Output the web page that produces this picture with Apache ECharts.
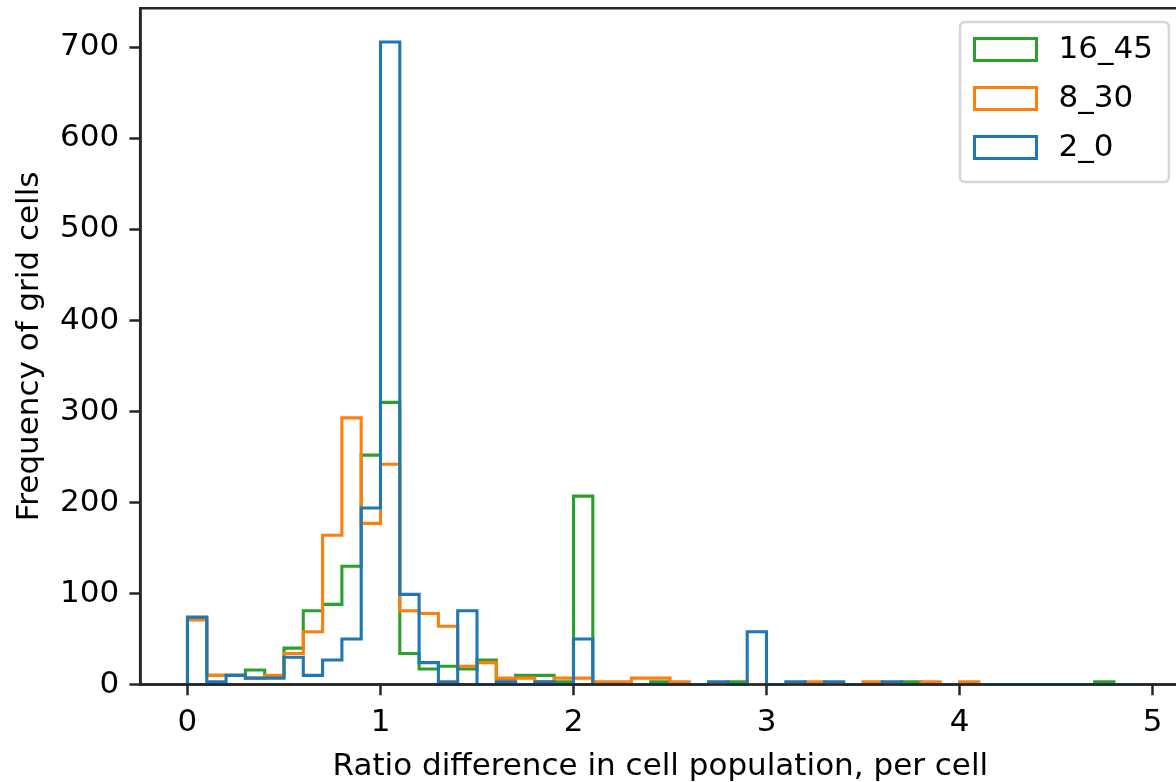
<!DOCTYPE html>
<html>
<head>
<meta charset="utf-8">
<title>Ratio difference in cell population</title>
<script src="https://cdn.jsdelivr.net/npm/echarts@6.0.0/dist/echarts.min.js"></script>
<style>
    html, body { margin: 0; padding: 0; background: #fff; }
    #chart { width: 1176px; height: 782px; }
</style>
</head>
<body>
<div id="chart"></div>
<script type="text/javascript">
    // histogram counts, bins of 0.1 from 0 to 4.9
    var binStart = 0;
    var binWidth = 0.1;
    var seriesNames = ['16_45', '8_30', '2_0'];
    var counts16_45 = [73, 10, 10, 16, 9, 40, 81, 88, 130, 252,
                       310, 34, 17, 20, 17, 27, 6, 10, 10, 3,
                       207, 0, 0, 0, 3, 0, 0, 0, 3, 0,
                       0, 0, 0, 0, 0, 0, 0, 3, 0, 0,
                       0, 0, 0, 0, 0, 0, 0, 3, 0];
    var counts8_30 = [71, 10, 10, 7, 10, 34, 58, 164, 293, 177,
                      242, 81, 78, 64, 20, 24, 7, 7, 3, 7,
                      7, 3, 3, 7, 7, 3, 0, 0, 0, 0,
                      0, 0, 3, 0, 0, 3, 0, 0, 3, 0,
                      3, 0, 0, 0, 0, 0, 0, 0, 0];
    var counts2_0 = [74, 3, 10, 7, 7, 30, 10, 27, 50, 194,
                     706, 99, 24, 3, 81, 0, 3, 0, 3, 0,
                     50, 0, 0, 0, 0, 0, 0, 3, 0, 58,
                     0, 3, 0, 3, 0, 0, 3, 0, 0, 0,
                     0, 0, 0, 0, 0, 0, 0, 0, 0];
    var colors = ['#2ca02c', '#ff7f0e', '#1f77b4'];
    var xTicks = [0, 1, 2, 3, 4, 5];
    var yTicks = [0, 100, 200, 300, 400, 500, 600, 700];

    // matplotlib-style step outline: baseline -> bins -> baseline
    function outline(counts) {
        var pts = [[binStart, 0]];
        counts.forEach(function (c, i) {
            var x0 = +(binStart + i * binWidth).toFixed(2);
            var x1 = +(binStart + (i + 1) * binWidth).toFixed(2);
            pts.push([x0, c], [x1, c]);
        });
        pts.push([+(binStart + counts.length * binWidth).toFixed(2), 0]);
        return pts;
    }

    var font = 'DejaVu Sans';
    var spine = '#262626';
    var allCounts = [counts16_45, counts8_30, counts2_0];

    var myChart = echarts.init(document.getElementById('chart'), null, {renderer: 'canvas'});
    var option = {
        animation: false,
        backgroundColor: '#ffffff',
        grid: {
            left: 140.2,
            top: 8.3,
            right: -4.5,
            bottom: 97.5,
            containLabel: false,
            outerBoundsMode: 'none',
            show: true,
            backgroundColor: 'transparent',
            borderColor: spine,
            borderWidth: 2.5
        },
        legend: {
            orient: 'vertical',
            left: 960,
            top: 22,
            icon: 'rect',
            itemWidth: 62,
            itemHeight: 22,
            itemGap: 18,
            padding: [12, 16, 19, 13],
            backgroundColor: '#ffffff',
            borderColor: '#d6d6d6',
            borderWidth: 2.5,
            borderRadius: 5,
            selectedMode: false,
            textStyle: {
                fontFamily: font,
                fontSize: 31,
                color: '#000',
                padding: [0, 0, 0, 17]
            },
            data: seriesNames.map(function (n, i) {
                return {
                    name: n,
                    itemStyle: {color: '#ffffff', borderColor: colors[i], borderWidth: 3}
                };
            })
        },
        xAxis: {
            type: 'value',
            min: -0.245,
            max: 5.145,
            z: 5,
            name: 'Ratio difference in cell population, per cell',
            nameLocation: 'middle',
            nameGap: 67,
            nameTextStyle: {fontFamily: font, fontSize: 31, color: '#000'},
            splitLine: {show: false},
            axisLine: {onZero: false, lineStyle: {color: spine, width: 2.5}},
            axisTick: {
                customValues: xTicks,
                length: 10.8,
                lineStyle: {color: spine, width: 2.5}
            },
            axisLabel: {
                customValues: xTicks,
                margin: 23,
                fontFamily: font,
                fontSize: 31,
                color: '#000'
            }
        },
        yAxis: {
            type: 'value',
            min: 0,
            max: 743,
            z: 5,
            name: 'Frequency of grid cells',
            nameLocation: 'middle',
            nameGap: 95,
            nameTextStyle: {fontFamily: font, fontSize: 31, color: '#000'},
            splitLine: {show: false},
            axisLine: {show: true, onZero: false, lineStyle: {color: spine, width: 2.5}},
            axisTick: {
                show: true,
                customValues: yTicks,
                length: 10.8,
                lineStyle: {color: spine, width: 2.5}
            },
            axisLabel: {
                customValues: yTicks,
                margin: 21,
                fontFamily: font,
                fontSize: 31,
                color: '#000'
            }
        },
        series: seriesNames.map(function (n, i) {
            return {
                name: n,
                type: 'line',
                data: outline(allCounts[i]),
                symbol: 'none',
                showSymbol: false,
                silent: true,
                itemStyle: {color: colors[i]},
                lineStyle: {color: colors[i], width: 3.1, join: 'miter', cap: 'butt'}
            };
        })
    };
    myChart.setOption(option);
    window.onresize = function () {
        myChart.resize();
    };
</script>
</body>
</html>
